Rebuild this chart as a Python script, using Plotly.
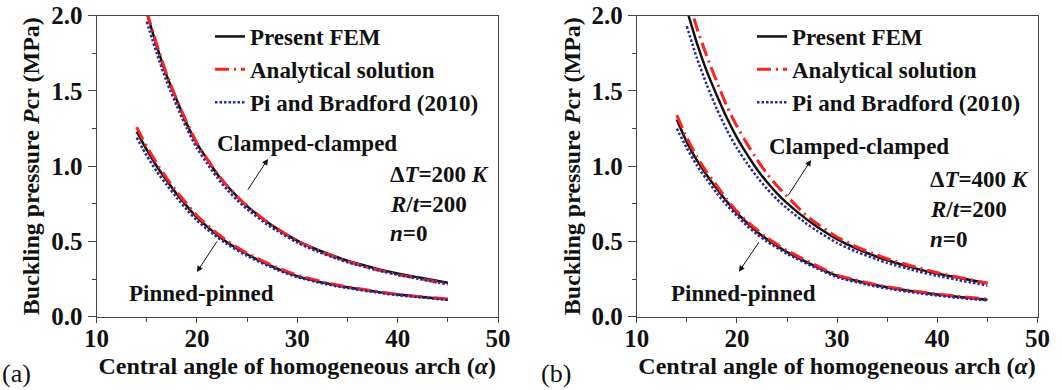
import plotly.graph_objects as go

# ---------------- data ----------------
# Panel (a): dT = 200 K
a_cc_x = [15, 16, 17, 18, 19, 20, 21, 22, 23, 24, 25, 27, 28, 30, 32, 34, 35, 38, 40, 42, 45]
a_cc_fem = [2.02, 1.80, 1.60, 1.44, 1.28, 1.15, 1.05, 0.95, 0.87, 0.80, 0.735, 0.63, 0.585, 0.505, 0.445, 0.395, 0.372, 0.318, 0.287, 0.262, 0.226]
a_cc_ana = [2.03, 1.81, 1.61, 1.44, 1.29, 1.155, 1.05, 0.955, 0.87, 0.80, 0.735, 0.63, 0.583, 0.503, 0.442, 0.39, 0.367, 0.312, 0.28, 0.255, 0.218]
a_cc_pb = [1.96, 1.75, 1.56, 1.40, 1.25, 1.12, 1.02, 0.925, 0.845, 0.775, 0.715, 0.612, 0.57, 0.492, 0.433, 0.384, 0.362, 0.308, 0.278, 0.252, 0.215]

a_pp_x = [14, 15, 16, 17, 18, 19, 20, 21, 22, 23, 25, 28, 30, 33, 35, 38, 40, 42, 45]
a_pp_fem = [1.23, 1.11, 1.00, 0.905, 0.815, 0.735, 0.66, 0.60, 0.545, 0.495, 0.415, 0.32, 0.27, 0.22, 0.195, 0.165, 0.147, 0.134, 0.115]
a_pp_ana = [1.26, 1.13, 1.02, 0.92, 0.83, 0.75, 0.672, 0.61, 0.555, 0.505, 0.422, 0.326, 0.276, 0.224, 0.198, 0.167, 0.149, 0.135, 0.117]
a_pp_pb = [1.19, 1.07, 0.965, 0.875, 0.79, 0.71, 0.64, 0.582, 0.53, 0.482, 0.404, 0.311, 0.263, 0.214, 0.19, 0.16, 0.143, 0.13, 0.111]

# Panel (b): dT = 400 K
b_cc_x = [15, 16, 17, 18, 19, 20, 21, 22, 23, 24, 25, 27, 28, 30, 32, 34, 35, 38, 40, 42, 45]
b_cc_fem = [2.04, 1.82, 1.63, 1.47, 1.32, 1.19, 1.08, 0.98, 0.895, 0.82, 0.755, 0.645, 0.598, 0.515, 0.45, 0.398, 0.375, 0.318, 0.287, 0.26, 0.222]
b_cc_ana = [2.15, 1.92, 1.73, 1.56, 1.40, 1.265, 1.15, 1.045, 0.95, 0.87, 0.80, 0.668, 0.618, 0.53, 0.463, 0.41, 0.385, 0.327, 0.293, 0.264, 0.222]
b_cc_pb = [1.93, 1.72, 1.54, 1.38, 1.24, 1.12, 1.02, 0.93, 0.85, 0.78, 0.72, 0.615, 0.57, 0.49, 0.43, 0.38, 0.357, 0.302, 0.272, 0.245, 0.206]

b_pp_x = [14, 15, 16, 17, 18, 19, 20, 21, 22, 23, 25, 28, 30, 33, 35, 38, 40, 42, 45]
b_pp_fem = [1.31, 1.16, 1.04, 0.94, 0.85, 0.765, 0.69, 0.625, 0.565, 0.515, 0.43, 0.33, 0.272, 0.222, 0.195, 0.165, 0.148, 0.133, 0.113]
b_pp_ana = [1.34, 1.19, 1.065, 0.96, 0.87, 0.78, 0.70, 0.635, 0.578, 0.525, 0.44, 0.338, 0.277, 0.226, 0.199, 0.168, 0.151, 0.136, 0.117]
b_pp_pb = [1.25, 1.12, 1.005, 0.91, 0.82, 0.74, 0.67, 0.605, 0.548, 0.499, 0.418, 0.32, 0.262, 0.213, 0.187, 0.157, 0.14, 0.126, 0.108]

series_names = ["Present FEM", "Analytical solution", "Pi and Bradford (2010)"]
x_ticks = [10, 20, 30, 40, 50]
y_ticks = [0.0, 0.5, 1.0, 1.5, 2.0]

FONT = "Liberation Serif"
BLACK = "#111111"
RED = "#ff2222"
BLUE = "#2a2a9a"

styles = [
    dict(color=BLACK, width=2.5, dash="solid"),
    dict(color=RED, width=3, dash="14px,5px,2px,5px"),
    dict(color=BLUE, width=2.5, dash="2.5px,2px"),
]

fig = go.Figure()

panels = [
    ("x", "y", "legend", [(a_cc_x, [a_cc_fem, a_cc_ana, a_cc_pb]), (a_pp_x, [a_pp_fem, a_pp_ana, a_pp_pb])]),
    ("x2", "y2", "legend2", [(b_cc_x, [b_cc_fem, b_cc_ana, b_cc_pb]), (b_pp_x, [b_pp_fem, b_pp_ana, b_pp_pb])]),
]

for xa, ya, leg, groups in panels:
    for gi, (xs, ys_list) in enumerate(groups):
        for si, ys in enumerate(ys_list):
            fig.add_trace(go.Scatter(
                x=xs, y=ys, mode="lines", xaxis=xa, yaxis=ya,
                line=dict(shape="spline", smoothing=0.6, **styles[si]),
                name=series_names[si], legend=leg, showlegend=(gi == 0),
            ))

W, H = 1062, 390

def px_x(p):
    return p / W

def px_y(p):
    return 1 - p / H

ydom = [px_y(316.7), px_y(15.7)]
xdom_a = [px_x(96.5), px_x(498)]
xdom_b = [px_x(636.7), px_x(1037.5)]

tickfont = dict(family=FONT, size=25, color=BLACK, weight="bold")
titlefont = dict(family=FONT, size=24, color=BLACK, weight="bold")

def xaxis(dom, anchor):
    return dict(domain=dom, anchor=anchor, range=[10, 50], tickvals=x_ticks, automargin=False,
                ticks="outside", ticklen=5, tickwidth=1, tickcolor="#444", ticklabelstandoff=-6,
                minor=dict(ticks="outside", ticklen=4, dtick=5, tickcolor="#444"),
                showline=True, linecolor="#444", linewidth=1, mirror=True,
                showgrid=False, zeroline=False, tickfont=tickfont,
                title=dict(text="Central angle of homogeneous arch (<i>α</i>)", font=titlefont, standoff=6))

def yaxis(anchor):
    return dict(domain=ydom, anchor=anchor, range=[0, 2.0], tickvals=y_ticks, tickformat=".1f",
                automargin=False,
                ticks="outside", ticklen=8, tickwidth=1, tickcolor="#444",
                minor=dict(ticks="outside", ticklen=4, dtick=0.25, tickcolor="#444"),
                showline=True, linecolor="#444", linewidth=1, mirror=True,
                showgrid=False, zeroline=False, tickfont=tickfont,
                title=dict(text="Buckling pressure <i>P</i>cr (MPa)", font=titlefont, standoff=4))

legfont = dict(family=FONT, size=23, color=BLACK, weight="bold")

fig.update_layout(
    width=W, height=H, margin=dict(l=0, r=0, t=0, b=0, autoexpand=False),
    paper_bgcolor="white", plot_bgcolor="white",
    xaxis=xaxis(xdom_a, "y"), yaxis=yaxis("x"),
    xaxis2=xaxis(xdom_b, "y2"), yaxis2=yaxis("x2"),
    legend=dict(x=px_x(210), y=px_y(15), xanchor="left", yanchor="top", font=legfont,
                bgcolor="rgba(0,0,0,0)", tracegroupgap=0, itemwidth=30),
    legend2=dict(x=px_x(752), y=px_y(15), xanchor="left", yanchor="top", font=legfont,
                 bgcolor="rgba(0,0,0,0)", tracegroupgap=0, itemwidth=30),
    showlegend=True,
)

txtfont = dict(family=FONT, size=23, color=BLACK, weight="bold")
annos = []
for xr, yr, dT, cc_xy, pp_xy, par_x, par_y0, arr_cc, arr_pp in [
    ("x", "y", "200", (31.0, 1.15), (20.5, 0.155), 39.0, 0.945, ((24.99, 0.835), (27.08, 1.048)), ((22.1, 0.51), (20.0, 0.297))),
    ("x2", "y2", "400", (32.2, 1.13), (20.7, 0.155), 39.1, 0.91, ((25.03, 0.797), (27.4, 1.041)), ((22.3, 0.505), (20.2, 0.299))),
]:
    annos.append(dict(xref=xr, yref=yr, x=cc_xy[0], y=cc_xy[1], text="Clamped-clamped", showarrow=False, font=txtfont))
    annos.append(dict(xref=xr, yref=yr, x=pp_xy[0], y=pp_xy[1], text="Pinned-pinned", showarrow=False, font=txtfont))
    for i, t in enumerate([f"Δ<i>T</i>={dT} <i>K</i>", "<i>R</i>/<i>t</i>=200", "<i>n</i>=0"]):
        annos.append(dict(xref=xr, yref=yr, x=par_x, y=par_y0 - i * 0.197, text=t, showarrow=False,
                          xanchor="left", font=txtfont))
    for (tx, ty), (hx, hy) in [arr_cc, arr_pp]:
        annos.append(dict(xref=xr, yref=yr, x=hx, y=hy, ax=tx, ay=ty, axref=xr, ayref=yr, text="",
                          showarrow=True, arrowhead=2, arrowsize=1.2, arrowwidth=1, arrowcolor=BLACK))

annos.append(dict(xref="paper", yref="paper", x=px_x(0), y=px_y(373), text="(a)", showarrow=False,
                  xanchor="left", yanchor="middle", font=dict(family=FONT, size=26, color=BLACK)))
annos.append(dict(xref="paper", yref="paper", x=px_x(539), y=px_y(373), text="(b)", showarrow=False,
                  xanchor="left", yanchor="middle", font=dict(family=FONT, size=26, color=BLACK)))
fig.update_layout(annotations=annos)

fig.write_html("out.html")
